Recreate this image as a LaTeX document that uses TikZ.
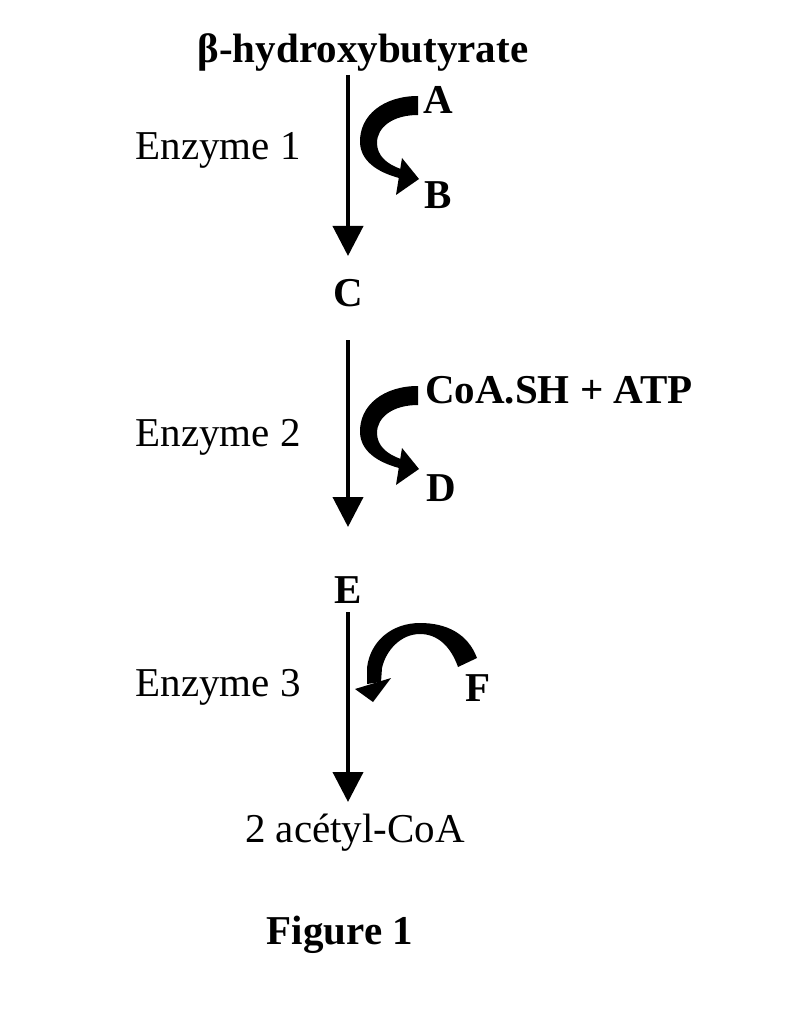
\documentclass[tikz,border=0pt]{standalone}
\usepackage{fontspec}
\setmainfont{Liberation Serif}
\usetikzlibrary{arrows.meta}
\begin{document}
\begin{tikzpicture}[x=1pt,y=-1pt,
  lbl/.style={font=\fontsize{41}{48}\selectfont, inner sep=0pt},
  blbl/.style={font=\bfseries\fontsize{41}{48}\selectfont, inner sep=0pt},
  mainarrow/.style={line width=4pt, -{Triangle[width=30pt,length=30pt]}},
  curv/.style={fill=black, draw=none}]
\useasboundingbox[fill=white] (0,0) rectangle (800,1024);
\node[blbl] (hb) at (363,52) {β-hydroxybutyrate};
\node[blbl] (C) at (348,293) {C};
\node[blbl] (E) at (348,590) {E};
\node[lbl] (acoa) at (355,833) {2 acétyl-CoA};
\node[blbl] (A) at (438,100) {A};
\node[blbl] (B) at (438,195) {B};
\node[blbl, anchor=west] (coa) at (425,390) {CoA.SH + ATP};
\node[blbl] (D) at (441,488) {D};
\node[blbl] (F) at (478,688) {F};
\node[lbl] (e1) at (218,150) {Enzyme 1};
\node[lbl] (e2) at (218,437) {Enzyme 2};
\node[lbl] (e3) at (218,687) {Enzyme 3};
\node[blbl] (fig) at (340,935) {Figure 1};
\coordinate (t1) at (348,75);
\coordinate (b1) at (348,256);
\coordinate (t2) at (348,340);
\coordinate (b2) at (348,527);
\coordinate (t3) at (348,612);
\coordinate (b3) at (348,802);
\draw[mainarrow] (t1) -- (b1);
\draw[mainarrow] (t2) -- (b2);
\draw[mainarrow] (t3) -- (b3);
% curved side arrows
\foreach \dy in {0,290} {
\begin{scope}[yshift=-\dy pt]
\fill[curv] (418,96) .. controls (384,96) and (359,115) .. (360,143)
  .. controls (361,161) and (377,172) .. (399,178)
  -- (401,169) .. controls (386,164) and (377,155) .. (377,143)
  .. controls (377,127) and (393,115) .. (418,115) -- cycle;
\fill[curv] (402,158) -- (419,179) -- (396,195) -- cycle;
\end{scope}}
\fill[curv] (477,658) .. controls (468,634) and (447,623) .. (420,623)
  .. controls (392,623) and (370,641) .. (367,668) -- (367,684)
  -- (381,682) -- (382,668)
  .. controls (386,650) and (401,634) .. (420,634)
  .. controls (438,634) and (451,647) .. (458,667) -- cycle;
\fill[curv] (355,689) -- (373,702) -- (391,678) -- cycle;
\end{tikzpicture}
\end{document}
